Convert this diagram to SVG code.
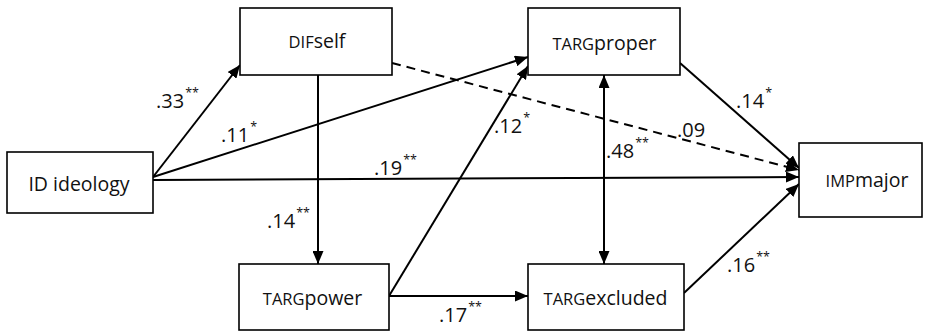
<svg xmlns="http://www.w3.org/2000/svg" width="927" height="331" viewBox="0 0 927 331">
<style>
.box{fill:#fff;stroke:#000;stroke-width:1.6}
.nt{font-family:"Open Sans","Liberation Sans",sans-serif;font-size:19.5px;fill:#111;text-anchor:middle}
.sc{font-size:16.5px}
.c{stroke:#000;stroke-width:2;fill:none;marker-end:url(#ah)}
.d{stroke-dasharray:9,6}
.lb{font-family:"Open Sans","Liberation Sans",sans-serif;font-size:20px;fill:#111}
.sp{font-size:12.5px}
</style>
<defs>
<marker id="ah" viewBox="0 0 13 11" refX="13" refY="5.5" markerWidth="13" markerHeight="11" markerUnits="userSpaceOnUse" orient="auto-start-reverse">
<path d="M0,0 L13,5.5 L0,11 z" fill="#000"/>
</marker>
</defs>
<rect width="927" height="331" fill="#fff"/>
<g id="connectors">
<line class="c" x1="153" y1="177" x2="240" y2="65"/>
<line class="c" x1="153" y1="177" x2="528" y2="57"/>
<line class="c" x1="153" y1="180" x2="799" y2="177"/>
<line class="c" x1="318" y1="75" x2="318" y2="264"/>
<line class="c d" x1="392" y1="63" x2="799" y2="170"/>
<line class="c" x1="389" y1="296" x2="528" y2="66"/>
<line class="c" x1="389" y1="296" x2="528" y2="296"/>
<line class="c" x1="604" y1="75" x2="604" y2="264" marker-start="url(#ah)"/>
<line class="c" x1="680" y1="63" x2="799" y2="168"/>
<line class="c" x1="684" y1="293" x2="799" y2="184"/>
</g>
<g id="labels">
<text class="lb" x="156" y="108">.33<tspan class="sp" dx="1" dy="-11">**</tspan></text>
<text class="lb" x="221" y="142">.11<tspan class="sp" dx="1" dy="-11">*</tspan></text>
<text class="lb" x="374" y="175">.19<tspan class="sp" dx="1" dy="-11">**</tspan></text>
<text class="lb" x="267" y="228">.14<tspan class="sp" dx="1" dy="-11">**</tspan></text>
<text class="lb" x="439" y="322">.17<tspan class="sp" dx="1" dy="-11">**</tspan></text>
<text class="lb" x="494" y="133">.12<tspan class="sp" dx="1" dy="-11">*</tspan></text>
<text class="lb" x="677" y="137">.09</text>
<text class="lb" x="606" y="158">.48<tspan class="sp" dx="1" dy="-11">**</tspan></text>
<text class="lb" x="736" y="108">.14<tspan class="sp" dx="1" dy="-11">*</tspan></text>
<text class="lb" x="727" y="272">.16<tspan class="sp" dx="1" dy="-11">**</tspan></text>
</g>
<g id="n_id">
<rect class="box" x="7" y="152" width="146" height="61"/>
<text class="nt" x="79" y="191">ID ideology</text>
</g>
<g id="n_difself">
<rect class="box" x="240" y="8" width="152" height="67"/>
<text class="nt" x="317" y="48"><tspan class="sc">DIF</tspan>self</text>
</g>
<g id="n_targproper">
<rect class="box" x="528" y="8" width="152" height="67"/>
<text class="nt" x="604.5" y="50"><tspan class="sc">TARG</tspan>proper</text>
</g>
<g id="n_targpower">
<rect class="box" x="239" y="264" width="150" height="66"/>
<text class="nt" x="312.5" y="305"><tspan class="sc">TARG</tspan>power</text>
</g>
<g id="n_targexcluded">
<rect class="box" x="528" y="264" width="156" height="66"/>
<text class="nt" x="605.5" y="305"><tspan class="sc">TARG</tspan>excluded</text>
</g>
<g id="n_impmajor">
<rect class="box" x="799" y="143" width="123" height="74"/>
<text class="nt" x="867" y="187"><tspan class="sc">IMP</tspan>major</text>
</g>
</svg>
